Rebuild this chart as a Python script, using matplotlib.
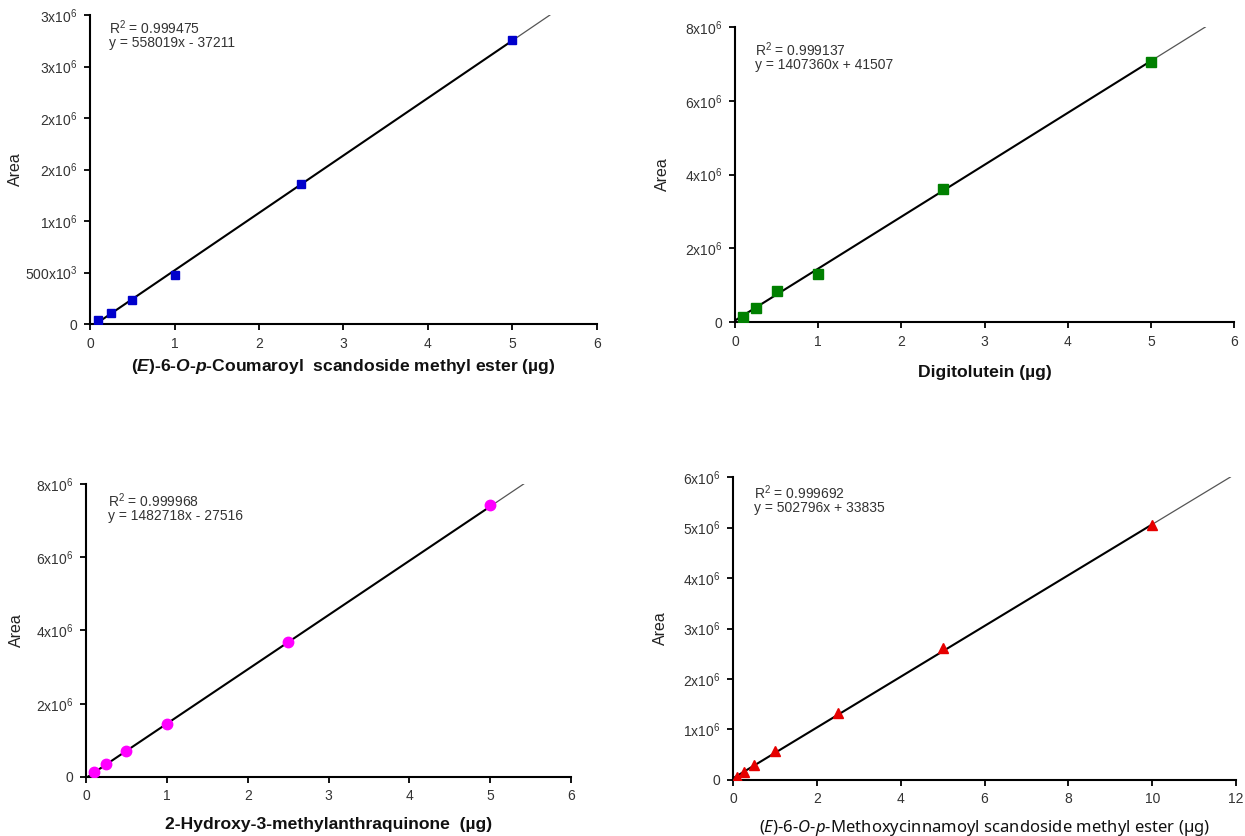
import matplotlib
matplotlib.use("Agg")
import matplotlib.pyplot as plt
import numpy as np

plt.rcParams["font.family"] = ["Liberation Sans", "DejaVu Sans"]
plt.rcParams["mathtext.fontset"] = "custom"
plt.rcParams["mathtext.rm"] = "Liberation Sans"
plt.rcParams["mathtext.it"] = "Noto Sans:italic"
plt.rcParams["mathtext.bf"] = "Liberation Sans:bold"
plt.rcParams["mathtext.bfit"] = "Liberation Sans:italic:bold"

# ---- calibration data -------------------------------------------------
amount_std = [0.1, 0.25, 0.5, 1.0, 2.5, 5.0]
amount_std4 = [0.1, 0.25, 0.5, 1.0, 2.5, 5.0, 10.0]

area_coumaroyl = [0.04e6, 0.107e6, 0.233e6, 0.476e6, 1.359e6, 2.757e6]
area_digitolutein = [0.14e6, 0.38e6, 0.84e6, 1.30e6, 3.60e6, 7.05e6]
area_anthraquinone = [0.14e6, 0.355e6, 0.71e6, 1.45e6, 3.69e6, 7.43e6]
area_methoxycinnamoyl = [0.06e6, 0.15e6, 0.30e6, 0.57e6, 1.33e6, 2.61e6, 5.05e6]

# regression results (slope, intercept, R^2)
fit_coumaroyl = (558019, -37211, "0.999475")
fit_digitolutein = (1407360, 41507, "0.999137")
fit_anthraquinone = (1482718, -27516, "0.999968")
fit_methoxycinnamoyl = (502796, 33835, "0.999692")

# axis ticks and labels
xticks_6 = [0, 1, 2, 3, 4, 5, 6]
xticks_12 = [0, 2, 4, 6, 8, 10, 12]
yticks_a = [0, 0.5e6, 1.0e6, 1.5e6, 2.0e6, 2.5e6, 3.0e6]
yticklabels_a = ["0", r"500x10$^{3}$", r"1x10$^{6}$", r"2x10$^{6}$",
                 r"2x10$^{6}$", r"3x10$^{6}$", r"3x10$^{6}$"]
yticks_b = [0, 2e6, 4e6, 6e6, 8e6]
yticklabels_b = ["0", r"2x10$^{6}$", r"4x10$^{6}$", r"6x10$^{6}$", r"8x10$^{6}$"]
yticks_c = [0, 1e6, 2e6, 3e6, 4e6, 5e6, 6e6]
yticklabels_c = ["0", r"1x10$^{6}$", r"2x10$^{6}$", r"3x10$^{6}$",
                 r"4x10$^{6}$", r"5x10$^{6}$", r"6x10$^{6}$"]

xlabel_1 = r"($\mathbfit{E}$)-6-$\mathbfit{O}$-$\mathbfit{p}$-Coumaroyl  scandoside methyl ester (µg)"
xlabel_2 = "Digitolutein (µg)"
xlabel_3 = "2-Hydroxy-3-methylanthraquinone  (µg)"
xlabel_4 = r"($\mathit{E}$)-6-$\mathit{O}$-$\mathit{p}$-Methoxycinnamoyl scandoside methyl ester (µg)"

fig = plt.figure(figsize=(12.45, 8.36), dpi=100)

bold_label = dict(fontsize=12.6, fontweight="bold")

panels = [
    dict(rect=[0.0723, 0.6124, 0.4072, 0.3696], x=amount_std, y=area_coumaroyl,
         fit=fit_coumaroyl, xlim=6, xt=xticks_6, yt=yticks_a, ytl=yticklabels_a,
         marker="s", ms=6.2, color="#0000cc", xlabel=xlabel_1,
         xl_kw=bold_label, xl_pos=(0.5, -0.108),
         txt_pos=(0.037, 0.99), area_pos=(-0.132, 0.5)),
    dict(rect=[0.5904, 0.6148, 0.4008, 0.3529], x=amount_std, y=area_digitolutein,
         fit=fit_digitolutein, xlim=6, xt=xticks_6, yt=yticks_b, ytl=yticklabels_b,
         marker="s", ms=7, color="#008000", xlabel=xlabel_2,
         xl_kw=bold_label, xl_pos=(0.5, -0.145),
         txt_pos=(0.04, 0.955), area_pos=(-0.13, 0.5)),
    dict(rect=[0.0691, 0.0706, 0.3896, 0.3505], x=amount_std, y=area_anthraquinone,
         fit=fit_anthraquinone, xlim=6, xt=xticks_6, yt=yticks_b, ytl=yticklabels_b,
         marker="o", ms=7.5, color="#ff00ff", xlabel=xlabel_3,
         xl_kw=bold_label, xl_pos=(0.5, -0.135),
         txt_pos=(0.045, 0.975), area_pos=(-0.128, 0.5)),
    dict(rect=[0.5888, 0.0670, 0.4040, 0.3624], x=amount_std4, y=area_methoxycinnamoyl,
         fit=fit_methoxycinnamoyl, xlim=12, xt=xticks_12, yt=yticks_c, ytl=yticklabels_c,
         marker="^", ms=6.5, color="#e60000", xlabel=xlabel_4,
         xl_kw=dict(fontsize=12, family=["Noto Sans", "DejaVu Sans"]), xl_pos=(0.5, -0.125),
         txt_pos=(0.041, 0.98), area_pos=(-0.13, 0.5)),
]

for p in panels:
    ax = fig.add_axes(p["rect"])
    ymax = p["yt"][-1]
    xmax = p["xlim"]
    slope, intercept, r2 = p["fit"]

    # regression line: solid over the data range, thin grey extension beyond
    x_start = max(0.0, -intercept / slope)
    x_last = max(p["x"])
    x_end = min(xmax, (ymax - intercept) / slope)
    xs = np.array([x_start, x_last])
    ax.plot(xs, slope * xs + intercept, color="black", lw=1.5, zorder=2)
    xe = np.array([x_last, x_end])
    ax.plot(xe, slope * xe + intercept, color="#555555", lw=0.9, zorder=2)

    ax.plot(p["x"], p["y"], linestyle="none", marker=p["marker"], ms=p["ms"],
            color=p["color"], mec=p["color"], zorder=3)

    ax.set_xlim(0, xmax)
    ax.set_ylim(0, ymax)
    ax.set_xticks(p["xt"])
    ax.set_xticklabels([str(v) for v in p["xt"]])
    ax.set_yticks(p["yt"])
    ax.set_yticklabels(p["ytl"])

    for side in ("top", "right"):
        ax.spines[side].set_visible(False)
    for side in ("left", "bottom"):
        ax.spines[side].set_linewidth(1.5)
    ax.tick_params(axis="both", direction="out", length=4, width=1.3,
                   labelsize=10, labelcolor="#333333", pad=5)

    ax.set_ylabel("Area", fontsize=11.5, color="#222222")
    ax.yaxis.set_label_coords(*p["area_pos"])
    ax.set_xlabel(p["xlabel"], color="#111111", **p["xl_kw"])
    ax.xaxis.set_label_coords(*p["xl_pos"])

    sign = "-" if intercept < 0 else "+"
    ax.text(p["txt_pos"][0], p["txt_pos"][1],
            "R$^{2}$ = " + r2 + "\n" + f"y = {slope}x {sign} {abs(intercept)}",
            transform=ax.transAxes, ha="left", va="top", fontsize=10,
            color="#333333", linespacing=0.9)

fig.savefig("out.png", dpi=100)
